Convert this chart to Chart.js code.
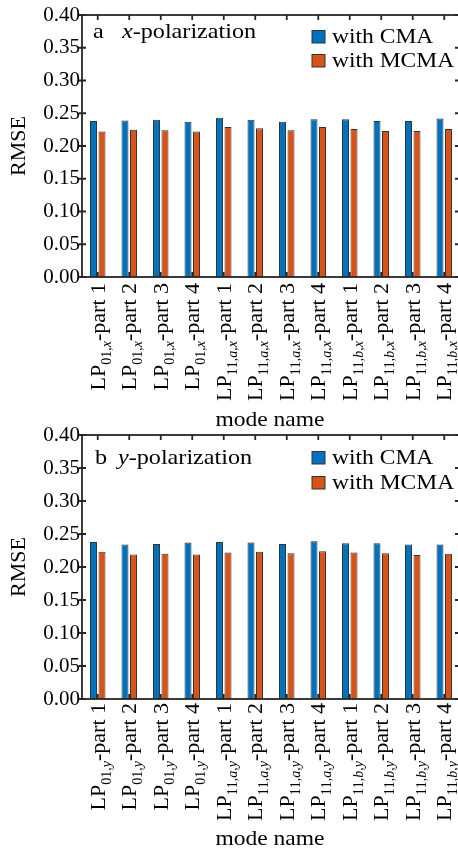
<!DOCTYPE html>
<html>
<head>
<meta charset="utf-8">
<script src="https://cdn.jsdelivr.net/npm/chart.js@4/dist/chart.umd.min.js"></script>
<style>
  body { margin: 0; background: #fff; }
  #wrap { position: relative; width: 458px; height: 850px; overflow: hidden; }
  canvas { position: absolute; left: 0; }
</style>
</head>
<body>
<div id="wrap">
  <canvas id="chartA" width="462" height="430" style="top:0"></canvas>
  <canvas id="chartB" width="462" height="430" style="top:420px"></canvas>
</div>
<script>
// mode names (text inside _{...} is the subscript)
const modesX = ['LP_{01,x}-part 1', 'LP_{01,x}-part 2', 'LP_{01,x}-part 3', 'LP_{01,x}-part 4',
                'LP_{11,a,x}-part 1', 'LP_{11,a,x}-part 2', 'LP_{11,a,x}-part 3', 'LP_{11,a,x}-part 4',
                'LP_{11,b,x}-part 1', 'LP_{11,b,x}-part 2', 'LP_{11,b,x}-part 3', 'LP_{11,b,x}-part 4'];
const modesY = ['LP_{01,y}-part 1', 'LP_{01,y}-part 2', 'LP_{01,y}-part 3', 'LP_{01,y}-part 4',
                'LP_{11,a,y}-part 1', 'LP_{11,a,y}-part 2', 'LP_{11,a,y}-part 3', 'LP_{11,a,y}-part 4',
                'LP_{11,b,y}-part 1', 'LP_{11,b,y}-part 2', 'LP_{11,b,y}-part 3', 'LP_{11,b,y}-part 4'];

const cmaX  = [0.238, 0.239, 0.240, 0.237, 0.243, 0.240, 0.237, 0.241, 0.241, 0.238, 0.238, 0.242];
const mcmaX = [0.222, 0.225, 0.224, 0.222, 0.229, 0.227, 0.224, 0.229, 0.226, 0.223, 0.223, 0.226];
const cmaY  = [0.238, 0.234, 0.235, 0.237, 0.238, 0.237, 0.235, 0.239, 0.236, 0.236, 0.234, 0.234];
const mcmaY = [0.223, 0.219, 0.220, 0.219, 0.222, 0.223, 0.221, 0.224, 0.222, 0.221, 0.218, 0.220];

const seriesNames = ['with CMA', 'with MCMA'];
const yMin = 0, yMax = 0.4, yStep = 0.05;

const SERIF = '"Liberation Serif", "Times New Roman", serif';
const BLUE = '#0072BD', ORANGE = '#D95319', EDGE = '#333333', AXIS = '#262626';

function txt(ctx, s, x, y, size, italic, sx) {
  ctx.save();
  ctx.translate(x, y);
  ctx.scale(sx || 1, 1);
  ctx.font = (italic ? 'italic ' : '') + size + 'px ' + SERIF;
  ctx.fillText(s, 0, 0);
  const w = ctx.measureText(s).width * (sx || 1);
  ctx.restore();
  return w;
}

function drawModeLabel(ctx, label, x, y) {
  const m = label.match(/^(.*)_\{(.*)\}(.*)$/);
  const parts = [{ t: m[1], size: 22, it: false, dy: 0 }];
  for (const ch of m[2]) parts.push({ t: ch, size: 14, it: /[a-z]/.test(ch), dy: 6 });
  parts.push({ t: m[3], size: 22, it: false, dy: 0 });
  let total = 0;
  parts.forEach(p => {
    ctx.font = (p.it ? 'italic ' : '') + p.size + 'px ' + SERIF;
    p.w = ctx.measureText(p.t).width;
    total += p.w;
  });
  ctx.save();
  ctx.translate(x, y);
  ctx.rotate(-Math.PI / 2);
  let cx = -total;
  parts.forEach(p => {
    ctx.font = (p.it ? 'italic ' : '') + p.size + 'px ' + SERIF;
    ctx.fillText(p.t, cx, p.dy);
    cx += p.w;
  });
  ctx.restore();
}

const decor = {
  id: 'decor',
  afterDatasetsDraw(chart, args, o) {
    const { ctx, chartArea: a, scales: { x, y } } = chart;
    ctx.save();
    // frame + inward ticks
    ctx.strokeStyle = AXIS;
    ctx.lineWidth = 1.8;
    ctx.strokeRect(a.left, a.top, a.right - a.left, a.bottom - a.top);
    ctx.beginPath();
    y.ticks.forEach((t, i) => {
      const py = y.getPixelForTick(i);
      ctx.moveTo(a.left - 3, py); ctx.lineTo(a.left + 4, py);
      ctx.moveTo(a.right, py); ctx.lineTo(a.right - 5, py);
    });
    x.ticks.forEach((t, i) => {
      const px = x.getPixelForTick(i);
      ctx.moveTo(px, a.top); ctx.lineTo(px, a.top + 5);
      ctx.moveTo(px, a.bottom); ctx.lineTo(px, a.bottom - 5);
    });
    ctx.stroke();

    ctx.fillStyle = '#000';
    ctx.textBaseline = 'alphabetic';
    // x tick labels
    x.ticks.forEach((t, i) => drawModeLabel(ctx, chart.data.labels[i], x.getPixelForTick(i) + 7, 283));

    // axis titles
    ctx.save();
    ctx.translate(25, (a.top + a.bottom) / 2);
    ctx.rotate(-Math.PI / 2);
    ctx.font = '22px ' + SERIF;
    ctx.textAlign = 'center';
    ctx.fillText('RMSE', 0, 0);
    ctx.restore();
    ctx.font = '21px ' + SERIF;
    const mw = ctx.measureText('mode name').width * 1.12;
    txt(ctx, 'mode name', (a.left + 458) / 2 - mw / 2, o.titleY, 21, false, 1.12);

    // panel tag and polarization
    txt(ctx, o.tag, o.tagX, o.tagY, 21, false, 1.15);
    const w1 = txt(ctx, o.pol, o.polX, o.tagY, 21, true, 1.15);
    txt(ctx, '-polarization', o.polX + w1, o.tagY, 21, false, 1.15);

    // legend
    chart.data.datasets.forEach((ds, i) => {
      const by = o.legY[i];
      ctx.fillStyle = ds.backgroundColor;
      ctx.fillRect(312, by - 12.5, 13, 12.5);
      ctx.strokeStyle = EDGE;
      ctx.lineWidth = 1;
      ctx.strokeRect(312, by - 12.5, 13, 12.5);
      ctx.fillStyle = '#000';
      txt(ctx, ds.label, 332, by, 21, false, 1.12);
    });
    ctx.restore();
  }
};

function makePanel(id, labels, cma, mcma, xHeight, o) {
  return new Chart(document.getElementById(id), {
    type: 'bar',
    data: {
      labels: labels,
      datasets: [
        { label: seriesNames[0], data: cma, backgroundColor: BLUE, borderColor: EDGE, borderWidth: 1 },
        { label: seriesNames[1], data: mcma, backgroundColor: ORANGE, borderColor: EDGE, borderWidth: 1 }
      ]
    },
    options: {
      responsive: false,
      animation: false,
      devicePixelRatio: 1,
      categoryPercentage: 0.54,
      barPercentage: 0.82,
      layout: { padding: { top: 15, right: 2, left: 0, bottom: 0 } },
      plugins: { legend: { display: false }, tooltip: { enabled: false }, decor: o },
      scales: {
        x: {
          grid: { display: false, drawTicks: false },
          border: { display: false },
          ticks: { display: false },
          afterFit(s) { s.height = xHeight; }
        },
        y: {
          min: yMin, max: yMax,
          grid: { display: false, drawTicks: false },
          border: { display: false },
          ticks: {
            stepSize: yStep,
            padding: 2,
            color: '#000',
            font: { family: SERIF, size: 21 },
            callback: v => v.toFixed(2)
          },
          afterFit(s) { s.width = 82; }
        }
      }
    },
    plugins: [decor]
  });
}

makePanel('chartA', modesX, cmaX, mcmaX, 153,
  { tag: 'a', tagX: 93, tagY: 38, pol: 'x', polX: 122, legY: [43, 67], titleY: 426 });
makePanel('chartB', modesY, cmaY, mcmaY, 151,
  { tag: 'b', tagX: 95, tagY: 44, pol: 'y', polX: 118, legY: [44, 69], titleY: 425 });
</script>
</body>
</html>
